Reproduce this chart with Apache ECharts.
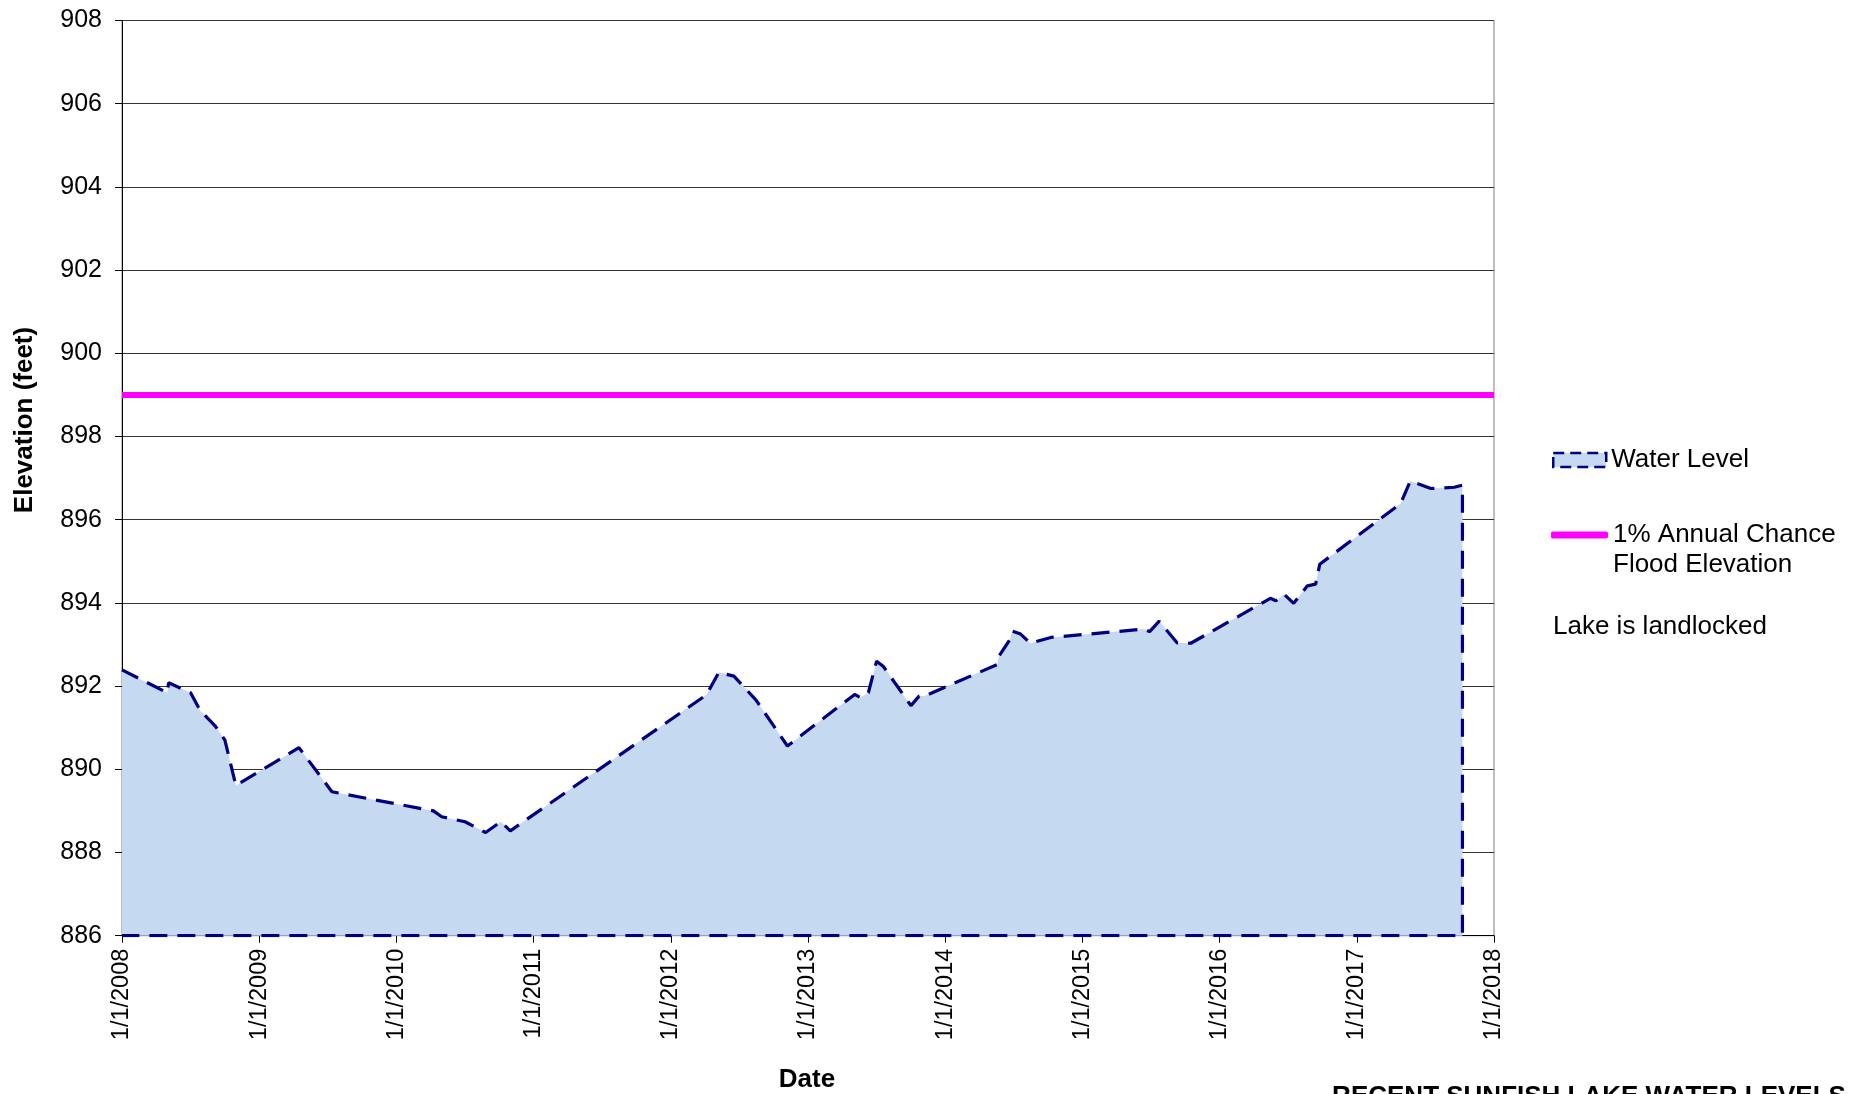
<!DOCTYPE html>
<html>
<head>
<meta charset="utf-8">
<title>Recent Sunfish Lake Water Levels</title>
<script src="https://cdn.jsdelivr.net/npm/echarts@6.0.0/dist/echarts.min.js"></script>
<style>
  html, body { margin: 0; padding: 0; background: #fff; }
  #chart { width: 1865px; height: 1094px; }
</style>
</head>
<body>
<div id="chart"></div>
<script>
// water level readings, decimal year -> feet
// the last two points close the outline down the right side and along the axis
const levelYears = [
  2008.00, 2008.33, 2008.34, 2008.50, 2008.57, 2008.68, 2008.75, 2008.83,
  2009.29, 2009.53, 2010.27, 2010.33, 2010.50, 2010.65, 2010.76, 2010.83,
  2012.26, 2012.35, 2012.46, 2012.62, 2012.85, 2013.34, 2013.38, 2013.44,
  2013.50, 2013.55, 2013.75, 2013.81, 2013.85, 2014.38, 2014.39, 2014.47,
  2014.49, 2014.55, 2014.62, 2014.77, 2015.45, 2015.49, 2015.56, 2015.69,
  2015.79, 2016.37, 2016.41, 2016.47, 2016.54, 2016.64, 2016.70, 2016.73,
  2017.32, 2017.39, 2017.54, 2017.71, 2017.77,
  2017.77, 2008.00
];
const levelFeet = [
  892.39, 891.84, 892.08, 891.84, 891.41, 891.04, 890.70, 889.61,
  890.52, 889.46, 889.00, 888.86, 888.74, 888.48, 888.74, 888.52,
  891.79, 892.33, 892.24, 891.67, 890.56, 891.80, 891.73, 891.84,
  892.60, 892.47, 891.53, 891.76, 891.76, 892.52, 892.71, 893.11,
  893.32, 893.25, 893.03, 893.17, 893.37, 893.31, 893.56, 893.04,
  893.03, 894.11, 894.05, 894.21, 893.99, 894.41, 894.45, 894.93,
  896.39, 896.93, 896.75, 896.78, 896.83,
  886.00, 886.00
];

// 1% annual chance flood elevation
const floodYears = [2008, 2018];
const floodFeet = [899, 899];

const FONT = '"Liberation Sans", Arial, sans-serif';

const chart = echarts.init(document.getElementById('chart'), null, { renderer: 'canvas' });

const levelData = levelYears.map((y, i) => [y, levelFeet[i]]);
const floodData = floodYears.map((y, i) => [y, floodFeet[i]]);

const option = {
  backgroundColor: '#fff',
  animation: false,
  grid: {
    left: 122,
    right: 371,
    top: 20.5,
    bottom: 158.3,
    show: true,
    borderColor: '#808080',
    borderWidth: 1,
    backgroundColor: 'transparent'
  },
  xAxis: {
    type: 'value',
    min: 2008,
    max: 2018,
    interval: 1,
    axisLine: { lineStyle: { color: '#000', width: 1 } },
    axisTick: { show: true, inside: false, length: 7, lineStyle: { color: '#000' } },
    splitLine: { show: false },
    axisLabel: {
      rotate: 90,
      margin: 13,
      color: '#000',
      fontSize: 23.5,
      fontFamily: FONT,
      formatter: v => '1/1/' + v
    }
  },
  yAxis: {
    type: 'value',
    min: 886,
    max: 908,
    interval: 2,
    axisLine: { show: true, lineStyle: { color: '#000', width: 1 } },
    axisTick: { show: true, inside: false, length: 7, lineStyle: { color: '#000' } },
    splitLine: { show: true, lineStyle: { color: '#333', width: 1 } },
    axisLabel: {
      margin: 20,
      color: '#000',
      fontSize: 25,
      fontFamily: FONT
    }
  },
  legend: [
    {
      left: 1552,
      top: 445,
      padding: 0,
      itemWidth: 53,
      itemHeight: 14,
      selectedMode: false,
      textStyle: { fontSize: 26, lineHeight: 30, color: '#000', fontFamily: FONT },
      data: [{
        name: 'Water Level',
        icon: 'rect',
        itemStyle: { color: '#C5D9F1', borderColor: '#000080', borderWidth: 2.5, borderType: [11, 6] }
      }]
    },
    {
      // blank first line keeps the swatch level with the first text line
      left: 1551,
      top: 490,
      padding: 0,
      itemWidth: 57,
      itemHeight: 7,
      selectedMode: false,
      formatter: name => '\n' + name.replace(' Flood', '\nFlood'),
      textStyle: { fontSize: 26, lineHeight: 30, color: '#000', fontFamily: FONT },
      data: [{
        name: '1% Annual Chance Flood Elevation',
        icon: 'roundRect',
        itemStyle: { color: '#FF00FF' }
      }]
    }
  ],
  graphic: [
    {
      type: 'text',
      x: 25,
      y: 420,
      rotation: Math.PI / 2,
      style: {
        text: 'Elevation (feet)',
        font: 'bold 26px ' + FONT,
        fill: '#000',
        align: 'center',
        verticalAlign: 'middle'
      }
    },
    {
      type: 'text',
      x: 807,
      y: 1080,
      style: {
        text: 'Date',
        font: 'bold 26px ' + FONT,
        fill: '#000',
        align: 'center',
        verticalAlign: 'middle'
      }
    },
    {
      type: 'text',
      x: 1553,
      y: 627,
      style: {
        text: 'Lake is landlocked',
        font: '26px ' + FONT,
        fill: '#000',
        align: 'left',
        verticalAlign: 'middle'
      }
    },
    {
      type: 'text',
      x: 1589,
      y: 1097,
      style: {
        text: 'RECENT SUNFISH LAKE WATER LEVELS',
        font: 'bold 26px ' + FONT,
        fill: '#000',
        align: 'center',
        verticalAlign: 'middle'
      }
    }
  ],
  series: [
    {
      name: 'Water Level',
      type: 'line',
      data: levelData,
      symbol: 'none',
      z: 3,
      lineStyle: { color: '#000080', width: 3.2, type: [18, 10] },
      areaStyle: { color: '#C5D9F1', opacity: 1, origin: 'start' }
    },
    {
      name: '1% Annual Chance Flood Elevation',
      type: 'line',
      data: floodData,
      symbol: 'none',
      z: 4,
      lineStyle: { color: '#FF00FF', width: 6 }
    }
  ]
};

chart.setOption(option);
window.addEventListener('resize', () => chart.resize());
</script>
</body>
</html>
